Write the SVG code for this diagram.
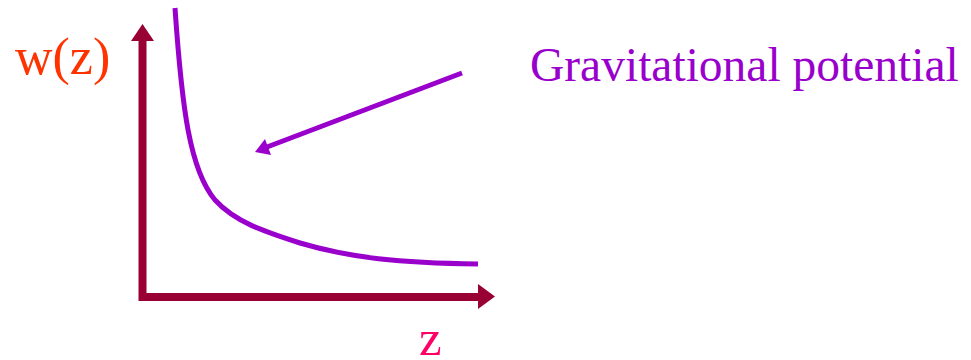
<svg xmlns="http://www.w3.org/2000/svg" width="971" height="360" viewBox="0 0 971 360">
<style>
.axis{stroke:#990033;stroke-width:8;fill:none}
.axhead{fill:#990033}
.purple{stroke:#9900CC;stroke-width:5;fill:none}
.phead{fill:#9900CC}
.lbl{font-family:'Liberation Serif','DejaVu Serif',serif}
</style>
<rect width="971" height="360" fill="#fff"/>
<g id="axes">
<path class="axis" d="M142.5,40 V297 H479"/>
<polygon class="axhead" points="131,41 154,41 142.5,24"/>
<polygon class="axhead" points="478,284 478,309 495,296.5"/>
</g>
<g id="curve">
<path class="purple" d="M175,8 C182,110 190,170 215,200 C235,222 265,232 300,243 C350,258 400,263 478,264"/>
</g>
<g id="connectors">
<line class="purple" x1="462" y1="73" x2="267" y2="147"/>
<polygon class="phead" points="255,152 271,155 265,139"/>
</g>
<g id="labels">
<text class="lbl" font-family="Liberation Serif, serif" x="15" y="74" font-size="52" fill="#FF3300">w(z)</text>
<text class="lbl" font-family="Liberation Serif, serif" x="419" y="355" font-size="51" fill="#FF0066">z</text>
<text class="lbl" font-family="Liberation Serif, serif" x="530" y="81" font-size="47.5" fill="#9900CC">Gravitational potential</text>
</g>
</svg>
